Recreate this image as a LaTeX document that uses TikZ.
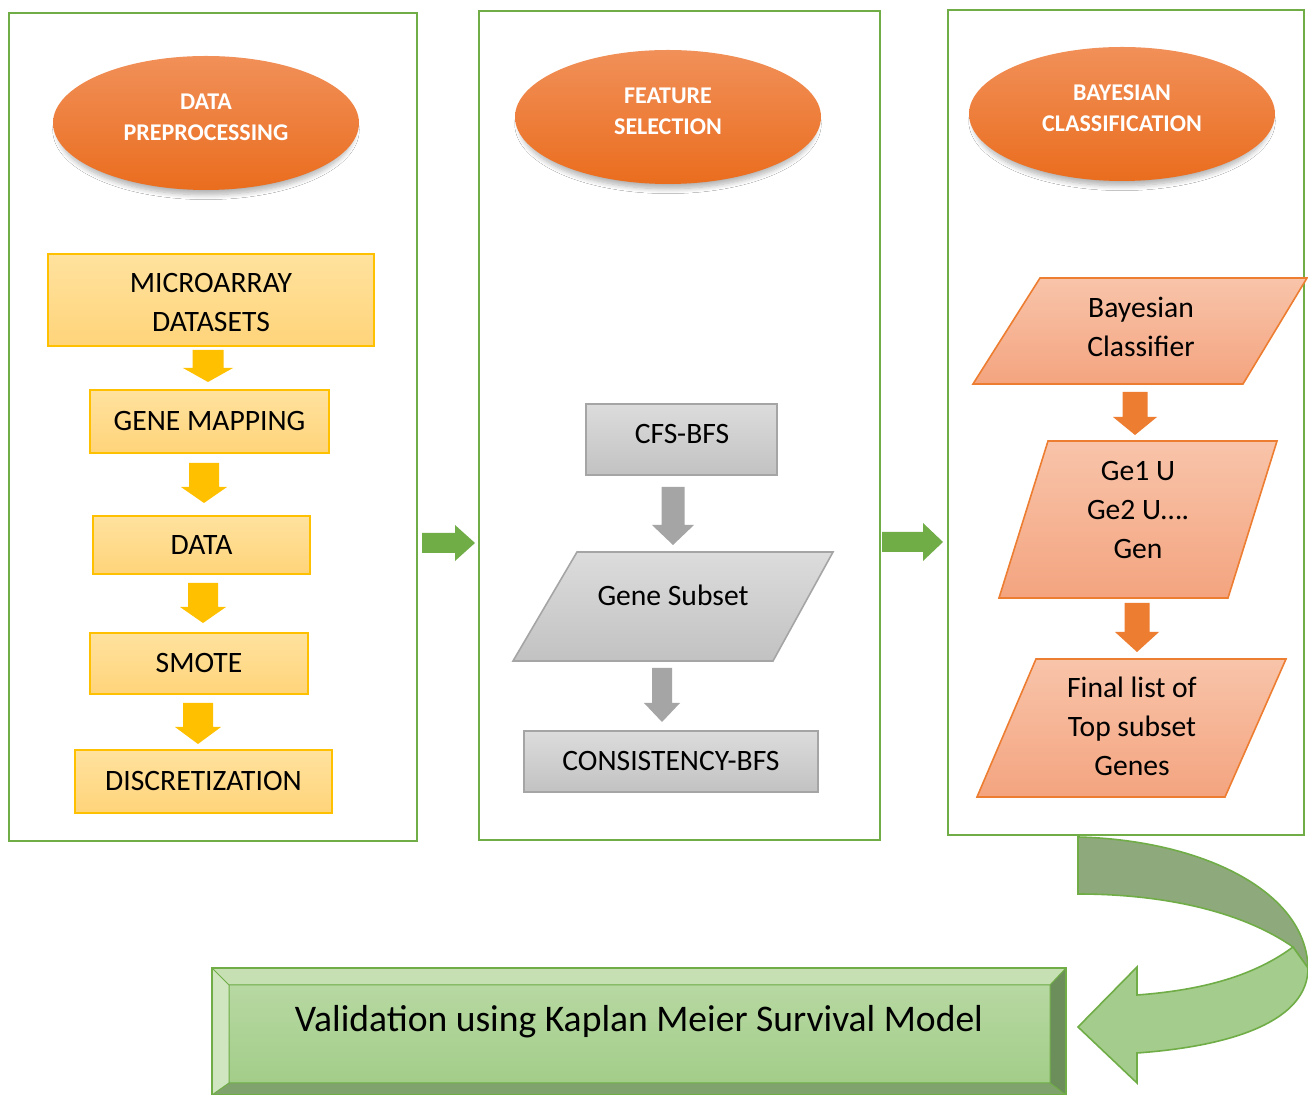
\documentclass[tikz,border=0pt]{standalone}
\usepackage{fontspec}
\setmainfont{Carlito}
\usetikzlibrary{shapes.geometric,shadows,shadows.blur}
\definecolor{pgreen}{HTML}{70AD47}
\definecolor{ystroke}{HTML}{FFC000}
\definecolor{ytop}{HTML}{FFE29E}
\definecolor{ybot}{HTML}{FFD47A}
\definecolor{gtop}{HTML}{DCDCDC}
\definecolor{gbot}{HTML}{C2C2C2}
\definecolor{gstroke}{HTML}{A5A5A5}
\definecolor{otop}{HTML}{F19059}
\definecolor{obot}{HTML}{EA6D1E}
\definecolor{stop}{HTML}{F8C4AA}
\definecolor{sbot}{HTML}{F4A47F}
\definecolor{ostroke}{HTML}{ED7D31}
\definecolor{darkband}{HTML}{8EAA7C}
\definecolor{lightband}{HTML}{A4CC8C}
\tikzset{
  panel/.style={draw=pgreen,line width=1.2pt,fill=white,inner sep=0pt},
  oval/.style={ellipse,inner sep=0pt,minimum width=153pt,minimum height=67pt,
    top color=otop,bottom color=obot,
    blur shadow={shadow xshift=0pt,shadow yshift=-3.5pt,shadow scale=0.97,shadow blur radius=2.5pt,shadow blur steps=8,shadow opacity=30},
    text=white,font=\bfseries\fontsize{12}{15.5}\selectfont,align=center},
  ybox/.style={draw=ystroke,line width=0.8pt,top color=ytop,bottom color=ybot,inner sep=0pt,
    font=\fontsize{14.8}{19}\selectfont,align=center},
  gbox/.style={draw=gstroke,line width=0.8pt,top color=gtop,bottom color=gbot,inner sep=0pt,
    font=\fontsize{14.8}{19}\selectfont,align=center},
  gpara/.style={draw=gstroke,line width=0.8pt,top color=gtop,bottom color=gbot},
  spara/.style={draw=ostroke,line width=0.8pt,top color=stop,bottom color=sbot},
  lbl/.style={font=\fontsize{14.8}{19.5}\selectfont,align=center,inner sep=0pt},
}
\newcommand\blkdown[7]{\fill[#7] ({#1-#5},#2) -- ({#1+#5},#2) -- ({#1+#5},#3) -- ({#1+#6},#3) -- (#1,#4) -- ({#1-#6},#3) -- ({#1-#5},#3) -- cycle;}
\newcommand\blkright[7]{\fill[#7] (#2,{#1-#5}) -- (#3,{#1-#5}) -- (#3,{#1-#6}) -- (#4,#1) -- (#3,{#1+#6}) -- (#3,{#1+#5}) -- (#2,{#1+#5}) -- cycle;}
\begin{document}
\begin{tikzpicture}[x=0.5pt,y=-0.5pt]
\useasboundingbox (0,0) rectangle (1308,1095);
\fill[white] (0,0) rectangle (1308,1095);
% panels
\node[panel,minimum width=204pt,minimum height=414pt] (p1) at (213,427) {};
\node[panel,minimum width=200.5pt,minimum height=414.5pt] (p2) at (679.5,425.5) {};
\node[panel,minimum width=178pt,minimum height=412.5pt] (p3) at (1126,422.5) {};
% ellipses
\node[oval] (e1) at (206,123) {DATA\\PREPROCESSING\\[-9.5pt]\mbox{}};
\node[oval] (e2) at (668,117) {FEATURE\\SELECTION\\[-9.5pt]\mbox{}};
\node[oval] (e3) at (1122,114) {BAYESIAN\\CLASSIFICATION\\[-9.5pt]\mbox{}};
% yellow boxes
\node[ybox,minimum width=163pt,minimum height=46pt] (micro) at (211,300) {};
\node[lbl] (microt) at (211,303) {MICROARRAY\\DATASETS};
\node[ybox,minimum width=119.5pt,minimum height=31.5pt] (gmap) at (209.5,421.5) {GENE MAPPING};
\node[ybox,minimum width=108.5pt,minimum height=29pt] (data) at (201.5,545) {DATA};
\node[ybox,minimum width=109pt,minimum height=30.5pt] (smote) at (199,663.5) {SMOTE};
\node[ybox,minimum width=128.5pt,minimum height=31.5pt] (disc) at (203.5,781.5) {DISCRETIZATION};
\blkdown{208}{350}{368}{382}{15.5}{25}{ystroke}
\blkdown{204}{463}{487}{503}{15}{23}{ystroke}
\blkdown{203}{583}{607}{623}{15}{23}{ystroke}
\blkdown{198}{703}{727}{744}{15}{23}{ystroke}
% gray column
\node[gbox,minimum width=95.5pt,minimum height=35.5pt] (cfs) at (681.5,439.5) {};
\node[lbl] (cfst) at (682,434) {CFS-BFS};
\blkdown{673}{487}{525}{545}{11.5}{21}{gstroke}
\draw[gpara] (577,552) -- (833,552) -- (773,661) -- (513,661) -- cycle;
\node[lbl] (gsub) at (673,595) {Gene Subset};
\blkdown{662}{668}{703}{722}{10}{18}{gstroke}
\node[gbox,minimum width=147pt,minimum height=30.5pt] (cons) at (671,761.5) {CONSISTENCY-BFS};
% salmon column
\draw[spara] (1040,278) -- (1307,278) -- (1243,384) -- (973,384) -- cycle;
\node[lbl] (bayes) at (1141,327) {Bayesian\\Classifier};
\blkdown{1135}{392}{417}{435}{12.5}{22}{ostroke}
\draw[spara] (1048,441) -- (1277,441) -- (1228,598) -- (999,598) -- cycle;
\node[lbl] (ge) at (1138,510) {Ge1 U\\Ge2 U….\\Gen};
\blkdown{1137}{603}{632}{652}{12.5}{22}{ostroke}
\draw[spara] (1036,659) -- (1286,659) -- (1225,797) -- (977,797) -- cycle;
\node[lbl] (final) at (1132,726) {Final list of\\Top subset\\Genes};
% green right arrows
\blkright{543}{422}{455}{475}{10}{18}{pgreen}
\blkright{542}{882}{923}{943}{10}{19}{pgreen}
% curved arrow
\draw[pgreen,line width=0.8pt,fill=darkband] (1078,837) .. controls (1200,840) and (1306,890) .. (1308,968)
  -- (1293,947) .. controls (1240,910) and (1160,894) .. (1078,894) -- cycle;
\draw[pgreen,line width=0.8pt,fill=lightband] (1293,947) .. controls (1255,975) and (1205,990) .. (1137,995)
  -- (1137,967) -- (1078,1027) -- (1137,1083) -- (1137,1053)
  .. controls (1235,1046) and (1308,1020) .. (1308,968) -- cycle;
% bevel box
\fill[fill={rgb,255:red,198;green,224;blue,180}] (212,968) -- (1066,968) -- (1050,985) -- (229,985) -- cycle;
\fill[fill={rgb,255:red,207;green,230;blue,193}] (212,968) -- (229,985) -- (229,1083) -- (212,1095) -- cycle;
\fill[fill={rgb,255:red,108;green,142;blue,90}] (1066,968) -- (1066,1095) -- (1050,1083) -- (1050,985) -- cycle;
\fill[fill={rgb,255:red,128;green,163;blue,109}] (212,1095) -- (229,1083) -- (1050,1083) -- (1066,1095) -- cycle;
\shade[top color={rgb,255:red,183;green,216;blue,162},bottom color={rgb,255:red,163;green,205;blue,137}] (229,985) rectangle (1050,1083);
\draw[pgreen,line width=0.5pt] (212,968) -- (229,985) (1066,968) -- (1050,985) (212,1095) -- (229,1083) (1066,1095) -- (1050,1083) (229,985) rectangle (1050,1083);
\draw[pgreen,line width=1pt] (212,968) rectangle (1066,1095);
\node[font=\fontsize{18.8}{22}\selectfont,inner sep=0pt] (val) at (639,1022) {Validation using Kaplan Meier Survival Model};
\end{tikzpicture}
\end{document}
